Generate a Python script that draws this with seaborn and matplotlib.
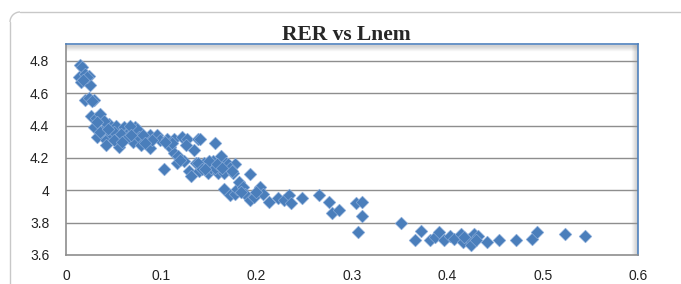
import numpy as np
import pandas as pd
import seaborn as sns
import matplotlib.pyplot as plt
from matplotlib.lines import Line2D
from matplotlib.patches import Arc

# values
lnem = [0.015, 0.017, 0.014, 0.016, 0.020, 0.024, 0.025, 0.020, 0.024, 0.029,
        0.026, 0.031, 0.029, 0.036, 0.033, 0.038, 0.042, 0.042, 0.045, 0.047,
        0.052, 0.054, 0.056, 0.061, 0.063, 0.067, 0.070, 0.072, 0.074, 0.077,
        0.079, 0.086, 0.088, 0.088, 0.095, 0.099, 0.103, 0.106, 0.109, 0.113,
        0.113, 0.116, 0.118, 0.122, 0.124, 0.127, 0.129, 0.131, 0.134, 0.136,
        0.138, 0.140, 0.141, 0.145, 0.149, 0.152, 0.154, 0.156, 0.159, 0.161,
        0.163, 0.166, 0.166, 0.168, 0.170, 0.172, 0.175, 0.177, 0.177, 0.179,
        0.181, 0.186, 0.188, 0.193, 0.193, 0.197, 0.202, 0.204, 0.207, 0.213,
        0.222, 0.229, 0.234, 0.236, 0.248, 0.265, 0.276, 0.279, 0.286, 0.304,
        0.306, 0.311, 0.311, 0.351, 0.366, 0.372, 0.382, 0.387, 0.391, 0.396,
        0.403, 0.407, 0.414, 0.416, 0.423, 0.425, 0.428, 0.432, 0.442, 0.454,
        0.472, 0.489, 0.494, 0.523, 0.544,
        0.040, 0.050, 0.058, 0.065, 0.067, 0.081, 0.090, 0.111, 0.120, 0.150,
        0.156, 0.172, 0.138, 0.143, 0.022, 0.036, 0.050, 0.018, 0.027, 0.032,
        0.044, 0.059, 0.068, 0.083, 0.104, 0.126, 0.146, 0.158, 0.164, 0.174,
        0.184, 0.199, 0.418, 0.430]
rer = [4.775, 4.765, 4.70, 4.67, 4.72, 4.71, 4.65, 4.56, 4.57, 4.56,
       4.46, 4.45, 4.39, 4.47, 4.33, 4.37, 4.31, 4.28, 4.41, 4.35,
       4.40, 4.32, 4.27, 4.39, 4.35, 4.37, 4.30, 4.39, 4.38, 4.33,
       4.28, 4.32, 4.26, 4.34, 4.34, 4.31, 4.13, 4.32, 4.27, 4.23,
       4.32, 4.17, 4.21, 4.33, 4.18, 4.32, 4.12, 4.09, 4.25, 4.17,
       4.32, 4.12, 4.32, 4.17, 4.11, 4.14, 4.18, 4.29, 4.11, 4.17,
       4.21, 4.11, 4.01, 4.17, 4.16, 3.97, 4.11, 4.16, 3.98, 4.01,
       4.05, 4.02, 3.98, 4.10, 3.94, 3.96, 4.00, 4.02, 3.98, 3.93,
       3.95, 3.94, 3.97, 3.92, 3.95, 3.97, 3.93, 3.86, 3.88, 3.92,
       3.74, 3.93, 3.84, 3.80, 3.69, 3.75, 3.69, 3.71, 3.74, 3.69,
       3.72, 3.70, 3.73, 3.68, 3.70, 3.66, 3.73, 3.72, 3.68, 3.69,
       3.69, 3.70, 3.74, 3.73, 3.72,
       4.43, 4.36, 4.35, 4.33, 4.40, 4.34, 4.31, 4.29, 4.19, 4.18,
       4.14, 4.14, 4.17, 4.13, 4.70, 4.36, 4.31, 4.68, 4.55, 4.42,
       4.38, 4.30, 4.34, 4.29, 4.30, 4.28, 4.13, 4.16, 4.14, 4.12,
       3.99, 3.99, 3.71, 3.69]
y_ticks = [3.6, 3.8, 4.0, 4.2, 4.4, 4.6, 4.8]
y_labels = ["3.6", "3.8", "4", "4.2", "4.4", "4.6", "4.8"]
x_ticks = [0, 0.1, 0.2, 0.3, 0.4, 0.5, 0.6]
x_labels = ["0", "0.1", "0.2", "0.3", "0.4", "0.5", "0.6"]

df = pd.DataFrame({"Lnem": lnem, "RER": rer})

sns.set_style("white")
plt.rcParams['font.family'] = ['Liberation Sans', 'DejaVu Sans']

fig = plt.figure(figsize=(6.81, 2.84), dpi=100)
ax = fig.add_axes([66 / 681, 1 - 255 / 284, (638 - 66) / 681, (255 - 44) / 284])

# outer chart border: top and left edge with a rounded corner (in pixels)
r = 10
border = dict(color="#c8c8c8", linewidth=1.0, transform=None)
fig.add_artist(Line2D([10 + r, 681], [284 - 12, 284 - 12], **border))
fig.add_artist(Line2D([10, 10], [0, 284 - 12 - r], **border))
fig.add_artist(Arc((10 + r, 284 - 12 - r), 2 * r, 2 * r, theta1=90, theta2=180,
                   edgecolor="#c8c8c8", linewidth=1.0, transform=None))

for y in y_ticks[1:]:
    ax.axhline(y, color="#8e8e8e", linewidth=1.0, zorder=1)

sns.scatterplot(data=df, x="Lnem", y="RER", marker="D", s=42, color="#4a7ebb",
                edgecolor="#8fb0dc", linewidth=0.4, ax=ax, zorder=3)

ax.set_xlim(0, 0.6)
ax.set_ylim(3.6, 4.905)
ax.set_yticks(y_ticks)
ax.set_yticklabels(y_labels)
ax.set_xticks(x_ticks)
ax.set_xticklabels(x_labels)
ax.tick_params(axis="both", length=0, labelsize=10, colors="#222222")
ax.tick_params(axis="y", pad=12)
ax.tick_params(axis="x", pad=10)
ax.set_xlabel("")
ax.set_ylabel("")

for side in ["left", "bottom"]:
    ax.spines[side].set_color("#8e8e8e")
    ax.spines[side].set_linewidth(1.2)
for side in ["top", "right"]:
    ax.spines[side].set_color("#4f81bd")
    ax.spines[side].set_linewidth(1.2)

# soft shadow along the top and right of the plot area
for i, a in enumerate(np.linspace(0.4, 0.0, 7)):
    ax.axhline(4.905 - (i + 1) * 0.0062, color="#9a9a9a", alpha=a, linewidth=1.0, zorder=2)
    ax.axvline(0.6 - (i + 1) * 0.0011, color="#9a9a9a", alpha=a, linewidth=1.0, zorder=2)

fig.text(346 / 681, 1 - 35 / 284, "RER vs Lnem", ha="center", va="center",
         fontsize=15.5, fontweight="bold", family=["Liberation Serif", "DejaVu Serif"])

plt.savefig("out.png", dpi=100)
plt.close()
